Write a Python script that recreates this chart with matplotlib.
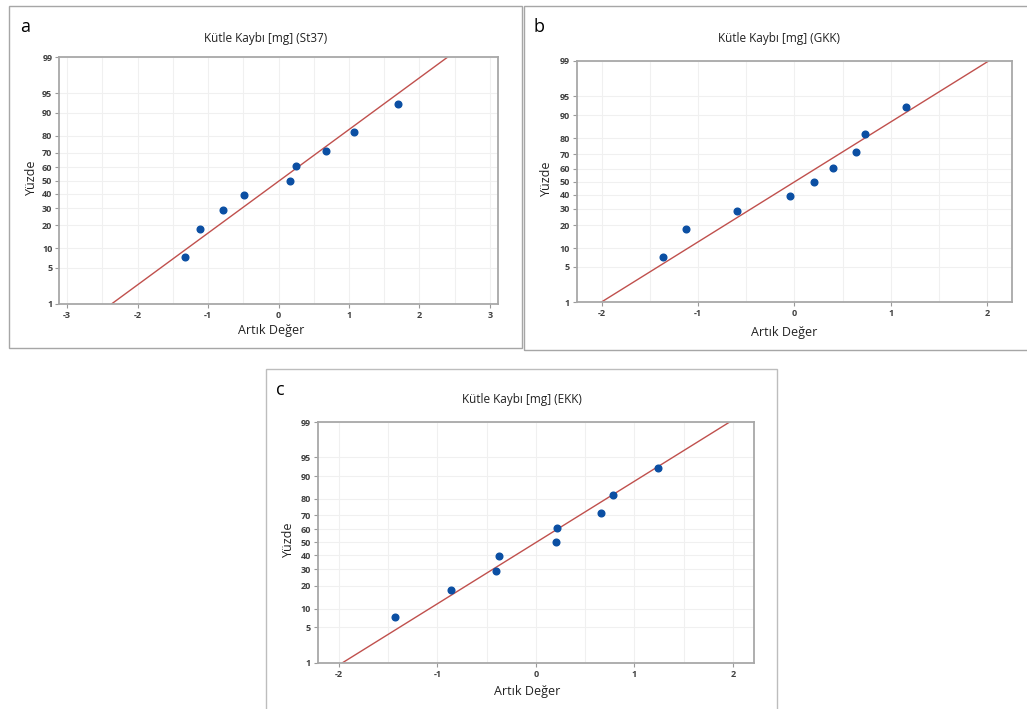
import matplotlib.pyplot as plt
from matplotlib.patches import Rectangle
from statistics import NormalDist

W, H = 1027, 709

# percentages (median ranks) shared by all three plots
percent = [7.4, 18.1, 28.7, 39.4, 50.0, 60.6, 71.3, 81.9, 92.6]

# residuals
resid_a = [-1.33, -1.11, -0.79, -0.49, 0.165, 0.245, 0.67, 1.07, 1.69]
resid_b = [-1.36, -1.13, -0.60, -0.04, 0.20, 0.40, 0.64, 0.73, 1.16]
resid_c = [-1.43, -0.86, -0.40, -0.37, 0.20, 0.21, 0.66, 0.78, 1.24]

# fitted normal line (mean, std)
fit_a = (0.016, 1.023)
fit_b = (0.005, 0.865)
fit_c = (0.003, 0.844)

titles = ['Kütle Kaybı [mg] (St37)', 'Kütle Kaybı [mg] (GKK)', 'Kütle Kaybı [mg] (EKK)']
y_ticks = [1, 5, 10, 20, 30, 40, 50, 60, 70, 80, 90, 95, 99]

nd = NormalDist()
def z(p):
    return nd.inv_cdf(p / 100.0)

plt.rcParams['font.family'] = ['Open Sans', 'DejaVu Sans']

fig = plt.figure(figsize=(W / 100, H / 100), dpi=100)

def fx(x):
    return x / W

def fy(y):
    return 1 - y / H

def frame(x0, y0, x1, y1, color='#a6a6a6'):
    fig.patches.append(Rectangle((fx(x0), fy(y1)), fx(x1) - fx(x0), fy(y0) - fy(y1),
                                 transform=fig.transFigure, fill=False,
                                 edgecolor=color, lw=1.0))

def panel(box, xlim, xticks, resid, fit, title, letter, pos):
    l, t, r, b = box
    ax = fig.add_axes([fx(l), fy(b), fx(r) - fx(l), fy(t) - fy(b)])
    ax.set_xlim(*xlim)
    ax.set_ylim(z(1), z(99))
    ax.set_xticks(xticks)
    ax.set_xticklabels(['%g' % v for v in xticks])
    minor = [v + 0.5 for v in xticks[:-1]]
    ax.set_xticks(minor, minor=True)
    ax.set_yticks([z(p) for p in y_ticks])
    ax.set_yticklabels([str(p) for p in y_ticks])
    ax.grid(True, which='both', color='#f0f0f0', lw=0.8)
    ax.set_axisbelow(True)
    ax.tick_params(which='minor', length=0)
    ax.tick_params(which='major', length=3, width=0.8, color='#9a9a9a',
                   labelsize=6.5, labelcolor='#404040', pad=2)
    for lab in ax.get_xticklabels() + ax.get_yticklabels():
        lab.set_fontweight('bold')
    for s in ax.spines.values():
        s.set_color('#a8a8a8')
        s.set_linewidth(1.3)

    mu, sd = fit
    zz = [z(1), z(99)]
    ax.plot([mu + sd * v for v in zz], zz, color='#c0504d', lw=1.0, zorder=2)
    ax.plot(resid, [z(p) for p in percent], 'o', color='#0b4fa3', ms=4.8,
            mec='#0b4fa3', zorder=3)

    (tx, ty), (xx, xy), (yx, yy), (lx, ly) = pos
    fig.text(fx(tx), fy(ty), title, ha='center', va='center', fontsize=8.5, color='#222222')
    fig.text(fx(xx), fy(xy), 'Artık Değer', ha='center', va='center', fontsize=9, color='#222222')
    fig.text(fx(yx), fy(yy), 'Yüzde', ha='center', va='center', fontsize=9,
             rotation=90, color='#222222')
    fig.text(fx(lx), fy(ly), letter, ha='center', va='center', fontsize=13, color='black')
    return ax

# panel frames
frame(9, 6, 521.5, 348)
frame(523.5, 6, 1030, 350)
frame(266, 369, 777, 712, color='#bdbdbd')

panel((59.3, 57.3, 497.7, 303.7), (-3.11, 3.11), [-3, -2, -1, 0, 1, 2, 3],
      resid_a, fit_a, titles[0], 'a',
      ((265.7, 38.5), (270.7, 331), (31, 177), (25, 27)))
panel((576.7, 61, 1012, 302.3), (-2.26, 2.26), [-2, -1, 0, 1, 2],
      resid_b, fit_b, titles[1], 'b',
      ((779.3, 38.5), (784, 332.5), (546, 178), (539, 27)))
panel((318, 422, 753.7, 662.7), (-2.21, 2.21), [-2, -1, 0, 1, 2],
      resid_c, fit_c, titles[2], 'c',
      ((521.7, 400), (526.7, 692), (288, 539), (280.7, 390)))

fig.savefig('out.png', dpi=100)
